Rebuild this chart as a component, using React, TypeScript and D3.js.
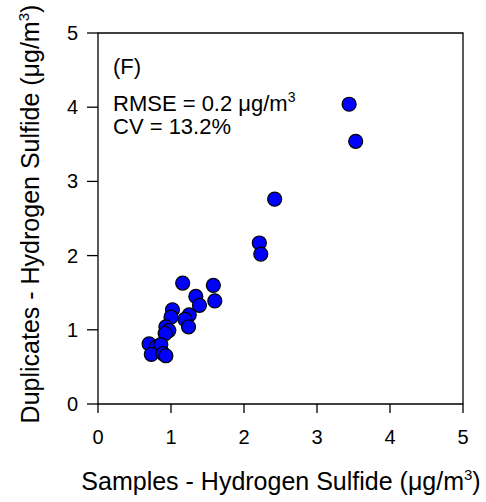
import * as React from 'react';
import * as d3 from 'd3';

// samples (x) vs duplicates (y), µg/m3
const samples: number[] = [3.44, 3.53, 2.42, 2.21, 2.23, 1.16, 1.58, 1.60, 1.34, 1.39, 1.02, 1.00, 1.25, 1.19, 1.24, 0.93, 0.97, 0.92, 0.70, 0.80, 0.86, 0.73, 0.89, 0.93];
const duplicates: number[] = [4.04, 3.54, 2.76, 2.17, 2.02, 1.63, 1.60, 1.39, 1.45, 1.33, 1.27, 1.17, 1.20, 1.14, 1.04, 1.04, 0.99, 0.95, 0.81, 0.77, 0.80, 0.67, 0.68, 0.65];
const xTicks: number[] = [0, 1, 2, 3, 4, 5];
const yTicks: number[] = [0, 1, 2, 3, 4, 5];

const font = '"Liberation Sans", Arial, sans-serif';

const App = () => {
    const dim = { left: 98, top: 33, width: 365, height: 371 };

    const xScale = d3.scaleLinear().domain([0, 5]).range([dim.left, dim.left + dim.width]);
    const yScale = d3.scaleLinear().domain([0, 5]).range([dim.top + dim.height, dim.top]);

    const points = samples.map((s, i) => ({ x: s, y: duplicates[i] }));
    const bottom = yScale(0);
    const left = xScale(0);

    return (
        <svg width={486} height={502} style={{ position: 'absolute', left: 0, top: 0, background: '#fff' }}
            fontFamily={font}>
            <rect x={0} y={0} width={486} height={502} fill="#fff" />
            {/* frame */}
            <path d={`M${left},${yScale(5)}H${xScale(5)}V${bottom}H${left}Z`} fill="none" stroke="#000" strokeWidth={1.3} />
            {xTicks.map(t => (
                <g key={'x' + t}>
                    <line x1={xScale(t)} x2={xScale(t)} y1={bottom} y2={bottom + 9} stroke="#000" strokeWidth={1.3} />
                    <text x={xScale(t)} y={444} textAnchor="middle" fontSize={20}>{t}</text>
                </g>
            ))}
            {yTicks.map(t => (
                <g key={'y' + t}>
                    <line x1={left - 11} x2={left} y1={yScale(t)} y2={yScale(t)} stroke="#000" strokeWidth={1.3} />
                    <text x={left - 20} y={yScale(t) + 7} textAnchor="end" fontSize={20}>{t}</text>
                </g>
            ))}
            {points.map((d, i) => (
                <circle key={i} cx={xScale(d.x)} cy={yScale(d.y)} r={7} fill="#0000ff" stroke="#000" strokeWidth={1.2} />
            ))}
            <text x={113} y={74} fontSize={22}>(F)</text>
            <text x={113} y={111} fontSize={22}>RMSE = 0.2 μg/m<tspan dy={-9} fontSize={14}>3</tspan></text>
            <text x={113} y={134} fontSize={22}>CV = 13.2%</text>
            <text x={281} y={490} textAnchor="middle" fontSize={25}>
                Samples - Hydrogen Sulfide (μg/m<tspan dy={-10} fontSize={15}>3</tspan><tspan dy={10}>)</tspan>
            </text>
            <text transform="translate(39,214) rotate(-90)" textAnchor="middle" fontSize={25}>
                Duplicates - Hydrogen Sulfide (μg/m<tspan dy={-10} fontSize={15}>3</tspan><tspan dy={10}>)</tspan>
            </text>
        </svg>
    );
};

export default App;
